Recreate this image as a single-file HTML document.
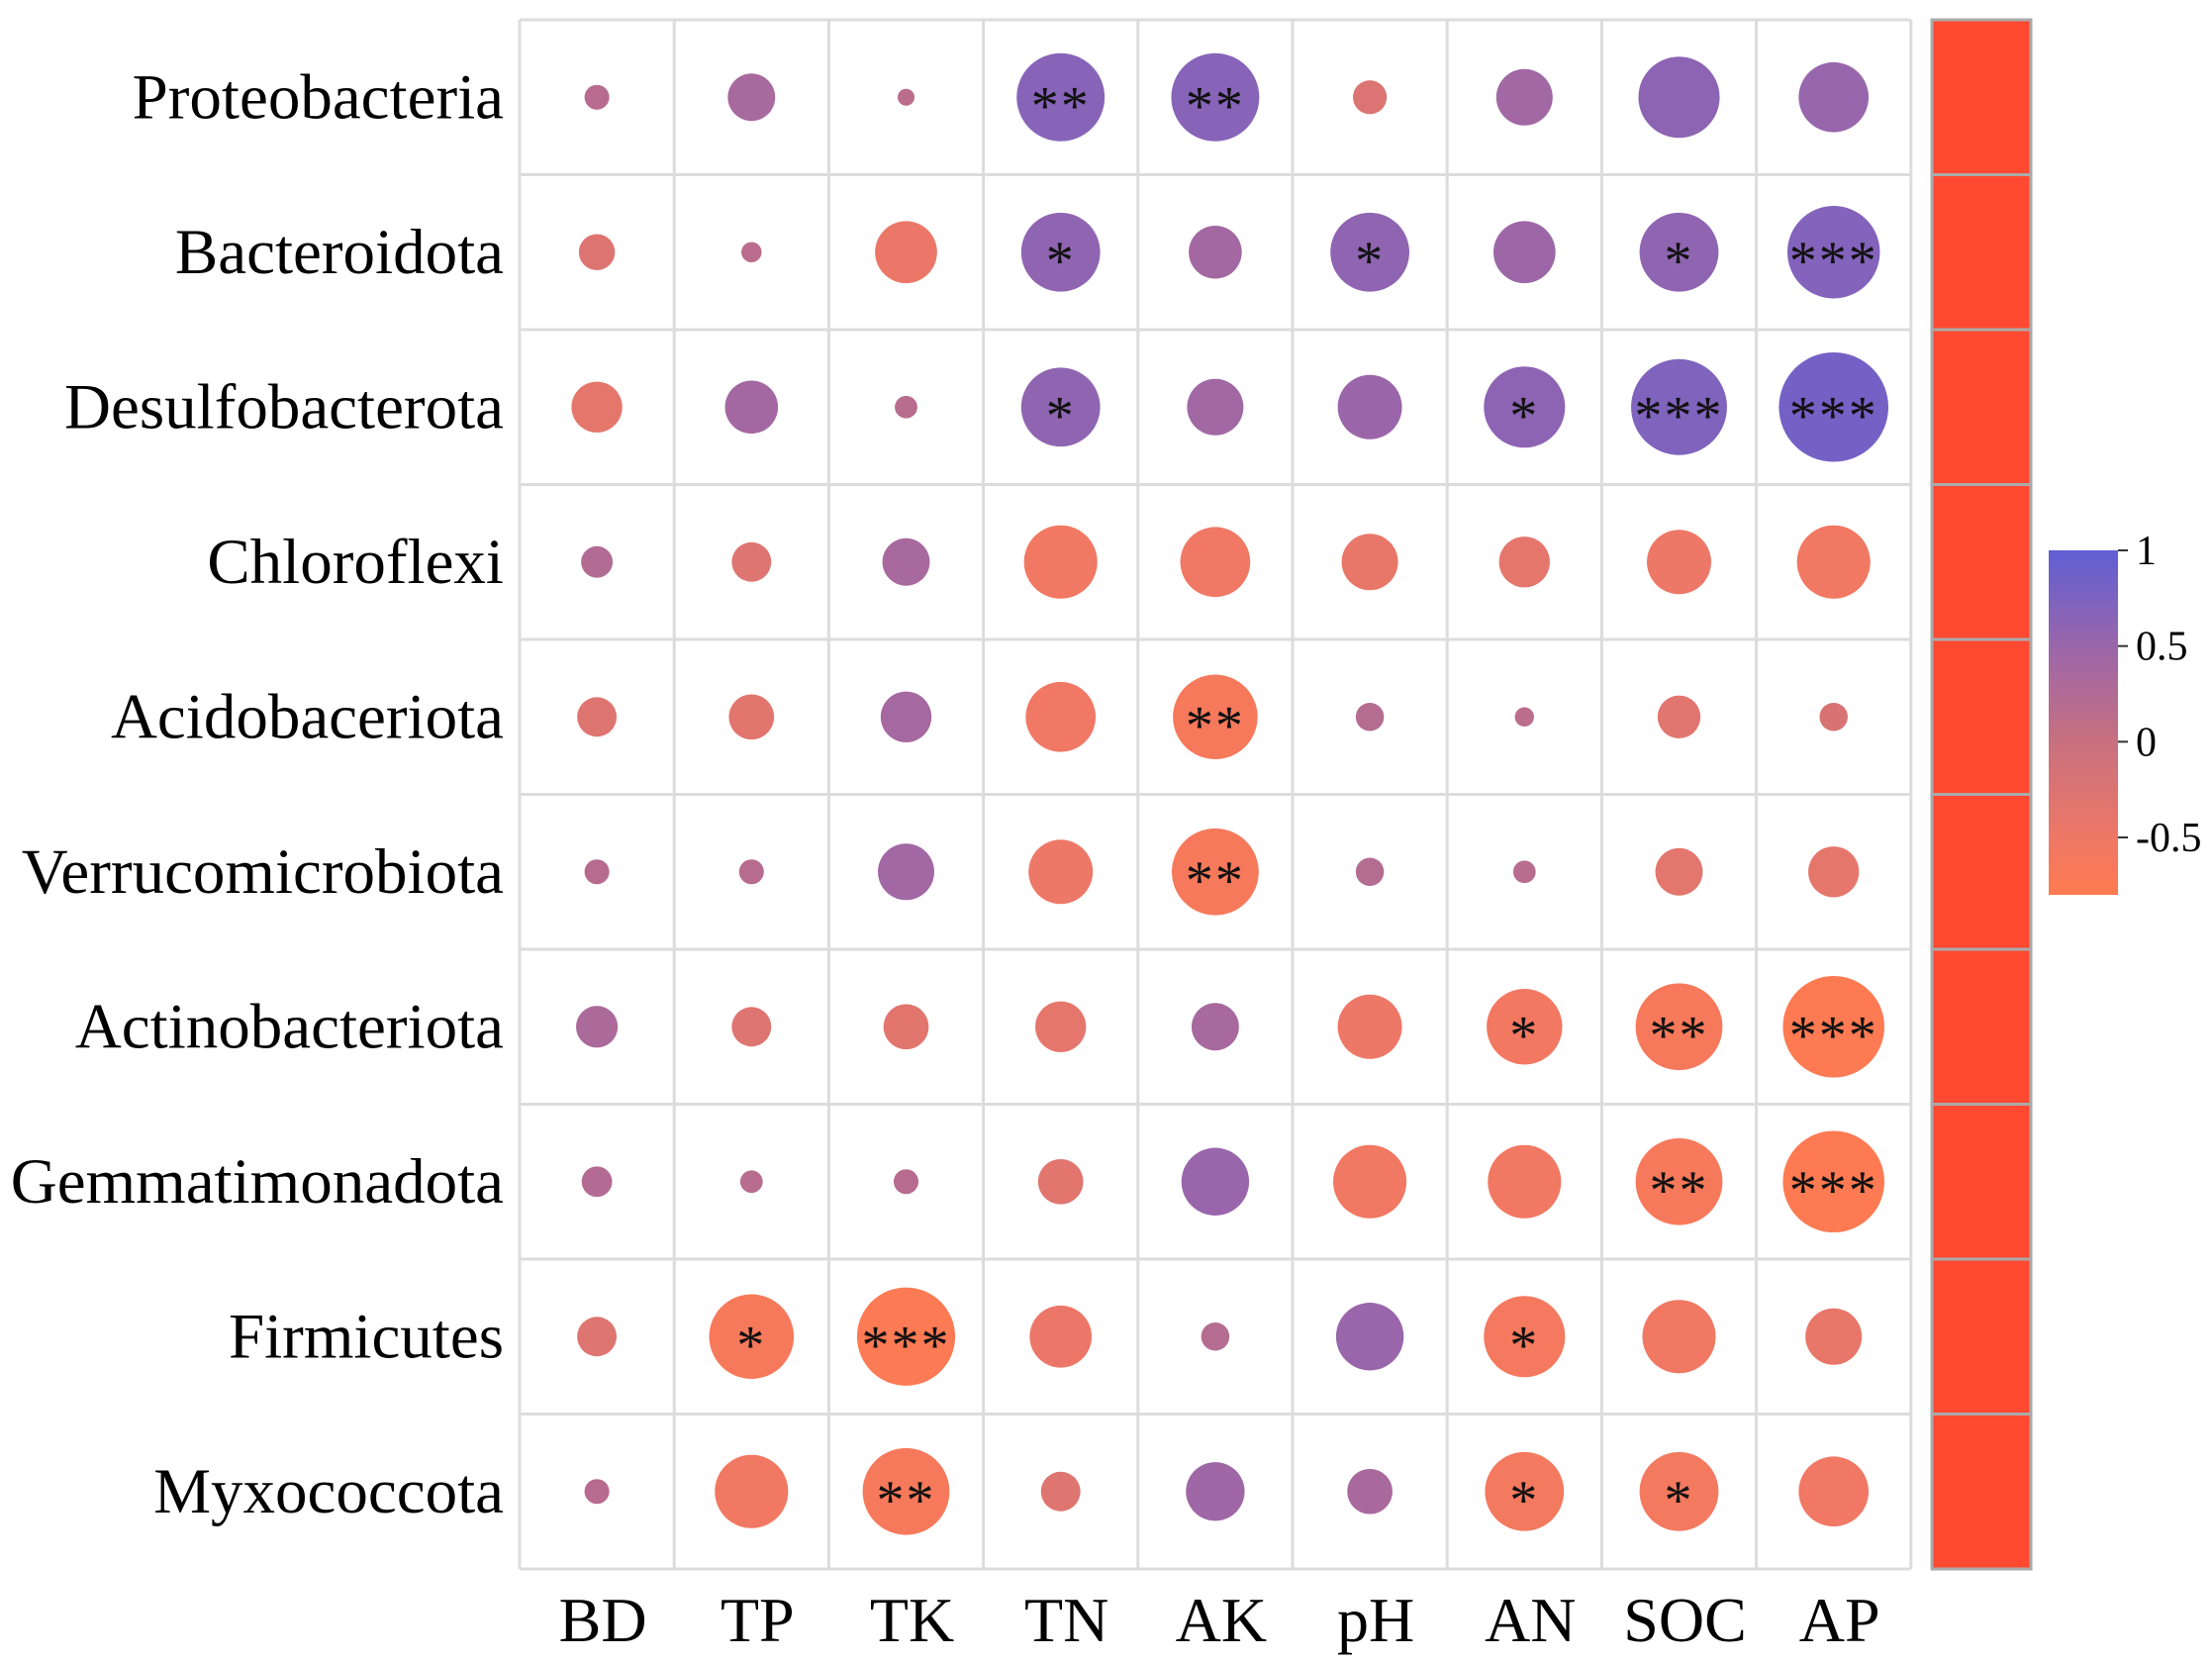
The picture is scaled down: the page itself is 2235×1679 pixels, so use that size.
<!DOCTYPE html>
<html><head><meta charset="utf-8"><style>
body{margin:0;background:#fff;}
svg{display:block;font-family:"Liberation Serif",serif;}
</style></head><body>
<svg id="chart" width="2235" height="1679" viewBox="0 0 2235 1679">
<defs><linearGradient id="cbar" x1="0" y1="0" x2="0" y2="1">
<stop offset="0" stop-color="#5f5fd4"/><stop offset="0.278" stop-color="#9a66aa"/><stop offset="0.556" stop-color="#c8707f"/><stop offset="0.833" stop-color="#ee7866"/><stop offset="1" stop-color="#ff7a50"/></linearGradient></defs>
</svg>
<script>
const rows=["Proteobacteria","Bacteroidota","Desulfobacterota","Chloroflexi","Acidobaceriota","Verrucomicrobiota","Actinobacteriota","Gemmatimonadota","Firmicutes","Myxococcota"];
const cols=["BD","TP","TK","TN","AK","pH","AN","SOC","AP"];
const values=[
[0.22,0.42,0.15,0.78,0.78,-0.3,0.5,0.72,0.62],
[-0.32,0.18,-0.55,0.7,0.47,0.7,0.55,0.7,0.82],
[-0.45,0.47,0.2,0.7,0.5,0.57,0.72,0.85,0.97],
[0.28,-0.35,0.42,-0.65,-0.62,-0.5,-0.45,-0.57,-0.65],
[-0.35,-0.4,0.45,-0.62,-0.75,0.25,0.17,-0.38,-0.25],
[0.22,0.22,0.5,-0.57,-0.77,0.25,0.2,-0.42,-0.45],
[0.37,-0.35,-0.4,-0.45,0.42,-0.57,-0.67,-0.77,-0.9],
[0.27,0.2,0.22,-0.4,0.6,-0.65,-0.65,-0.77,-0.9],
[-0.35,-0.75,-0.87,-0.55,0.25,0.6,-0.72,-0.65,-0.5],
[0.22,-0.65,-0.77,-0.35,0.52,0.4,-0.7,-0.7,-0.62]];
const stars=[
["","","","**","**","","","",""],
["","","","*","","*","","*","***"],
["","","","*","","","*","***","***"],
["","","","","","","","",""],
["","","","","**","","","",""],
["","","","","**","","","",""],
["","","","","","","*","**","***"],
["","","","","","","","**","***"],
["","*","***","","","","*","",""],
["","","**","","","","*","*",""]];
const cbTicks=[1,0.5,0,-0.5];
const ns="http://www.w3.org/2000/svg";
const svg=document.getElementById('chart');
const L=525,T=20,CW=156.2,RH=156.5,NC=cols.length,NR=rows.length;
const xc=i=>L+CW*(i+0.5), yc=j=>T+RH*(j+0.5);
const rad=v=>57*Math.abs(v);
const stops=[[1,[95,95,212]],[0.5,[154,102,170]],[0,[200,112,127]],[-0.5,[238,120,102]],[-0.8,[255,122,80]]];
function col(v){v=Math.max(-0.8,Math.min(1,v*0.85));for(let k=0;k<stops.length-1;k++){const a=stops[k],b=stops[k+1];if(v<=a[0]&&v>=b[0]){const t=(a[0]-v)/(a[0]-b[0]);const c=a[1].map((x,i)=>Math.round(x+(b[1][i]-x)*t));return `rgb(${c.join(',')})`;}}return 'rgb(200,112,127)';}
function mk(tag,attrs){const e=document.createElementNS(ns,tag);for(const k in attrs)e.setAttribute(k,attrs[k]);svg.appendChild(e);return e;}
for(let i=0;i<=NC;i++){const l=mk('line',{x1:L+CW*i,x2:L+CW*i,y1:T,y2:T+RH*NR,stroke:'#dcdcdc','stroke-width':3});

}
for(let j=0;j<=NR;j++){const l=mk('line',{x1:L,x2:L+CW*NC,y1:T+RH*j,y2:T+RH*j,stroke:'#dcdcdc','stroke-width':3});

}
rows.forEach((r,j)=>{cols.forEach((c,i)=>{const v=values[j][i];
const e=mk('circle',{cx:xc(i),cy:yc(j),r:rad(v),fill:col(v)});


if(stars[j][i]){const s=mk('text',{x:xc(i),y:yc(j)+27,'text-anchor':'middle','font-size':56,fill:'#111','letter-spacing':2});s.textContent=stars[j][i];

}
});
const t=mk('text',{x:509,y:yc(j)+21,'text-anchor':'end','font-size':65,fill:'#000'});t.textContent=r;


const b=mk('rect',{x:1952,y:T+RH*j,width:100,height:RH,fill:'#ff4930',stroke:'#aaaaaa','stroke-width':3});


});
cols.forEach((c,i)=>{const t=mk('text',{x:xc(i)+6,y:1658,'text-anchor':'middle','font-size':64,fill:'#000'});t.textContent=c;

});
const cbTop=556,cbBot=904,cbMin=-0.8,cbMax=1;
const cy=v=>cbTop+(cbMax-v)/(cbMax-cbMin)*(cbBot-cbTop);
const cb=mk('rect',{x:2070,y:cbTop,width:70,height:cbBot-cbTop,fill:'url(#cbar)'});


cbTicks.forEach(v=>{const l=mk('line',{x1:2140,x2:2150,y1:cy(v),y2:cy(v),stroke:'#333','stroke-width':2});


const t=mk('text',{x:2158,y:cy(v)+14,'font-size':42,fill:'#000'});t.textContent=String(v);

});
</script>
</body></html>
